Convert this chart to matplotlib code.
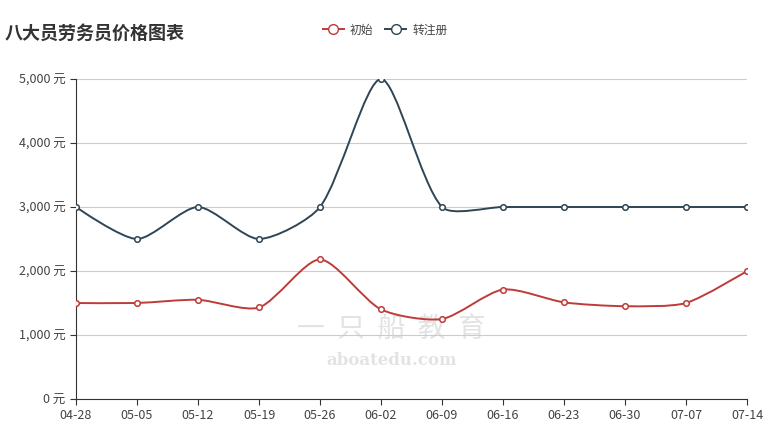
import math
import matplotlib.pyplot as plt
from matplotlib.path import Path
from matplotlib.patches import PathPatch
from matplotlib.lines import Line2D

plt.rcParams['font.family'] = ['Noto Sans CJK SC', 'DejaVu Sans']

dates = ['04-28', '05-05', '05-12', '05-19', '05-26', '06-02', '06-09',
         '06-16', '06-23', '06-30', '07-07', '07-14']
initial = [1500, 1500, 1550, 1430, 2180, 1400, 1250, 1710, 1510, 1450, 1500, 2000]
transfer = [3000, 2500, 3000, 2500, 3000, 5000, 3000, 3000, 3000, 3000, 3000, 3000]
yticks = [0, 1000, 2000, 3000, 4000, 5000]

red = '#bf3b37'
dark = '#2f4554'

# pixel scale of the axes, used so smoothing works like it does on screen
SX = 671 / 11
SY = 320 / 5000


def smooth_path(xs, ys, smooth=0.25):
    pts = [(a * SX, b * SY) for a, b in zip(xs, ys)]
    n = len(pts)
    cps = []
    for i in range(n):
        if i == 0 or i == n - 1:
            cps.append((pts[i], pts[i]))
            continue
        px, py = pts[i - 1]
        x, y = pts[i]
        nx, ny = pts[i + 1]
        vx, vy = (nx - px) * smooth, (ny - py) * smooth
        d0 = math.hypot(x - px, y - py)
        d1 = math.hypot(nx - x, ny - y)
        s = d0 + d1
        d0, d1 = d0 / s, d1 / s
        cps.append(((x - vx * d0, y - vy * d0), (x + vx * d1, y + vy * d1)))
    verts = [pts[0]]
    codes = [Path.MOVETO]
    for i in range(n - 1):
        verts += [cps[i][1], cps[i + 1][0], pts[i + 1]]
        codes += [Path.CURVE4] * 3
    verts = [(a / SX, b / SY) for a, b in verts]
    return Path(verts, codes)


fig = plt.figure(figsize=(7.78, 4.4), dpi=100)
ax = fig.add_axes([76 / 778, 41 / 440, 671 / 778, 320 / 440])

x = list(range(len(dates)))

# faint watermark text
ax.text(0.47, 0.22, '一  只  船  教  育', transform=ax.transAxes, fontsize=20,
        color='#e3e3e3', ha='center', va='center', zorder=0)
ax.text(0.47, 0.12, 'aboatedu.com', transform=ax.transAxes, fontsize=12,
        color='#e3e3e3', ha='center', va='center', family='DejaVu Serif',
        fontweight='bold', zorder=0)

for vals, col in [(transfer, dark), (initial, red)]:
    ax.add_patch(PathPatch(smooth_path(x, vals), fill=False, edgecolor=col,
                           lw=1.4, zorder=3))
    ax.plot(x, vals, 'o', ms=4, mfc='white', mec=col, mew=1.1, zorder=4)

ax.set_xlim(0, len(dates) - 1)
ax.set_ylim(0, 5000)
ax.set_xticks(x)
ax.set_xticklabels(dates)
ax.set_yticks(yticks)
ax.set_yticklabels(['{:,} 元'.format(v) for v in yticks])
ax.grid(axis='y', color='#cccccc', lw=0.8)
ax.set_axisbelow(True)
for s in ['top', 'right']:
    ax.spines[s].set_visible(False)
ax.spines['left'].set_color('#333333')
ax.spines['bottom'].set_color('#333333')
ax.tick_params(axis='both', colors='#333333', labelsize=9, length=4,
               labelcolor='#444444')

fig.text(5 / 778, 1 - 33 / 440, '八大员劳务员价格图表', fontsize=13,
         fontweight='bold', color='#333333', va='center')

handles = [Line2D([], [], color=red, lw=1.4, marker='o', ms=7, mfc='white', mec=red),
           Line2D([], [], color=dark, lw=1.4, marker='o', ms=7, mfc='white', mec=dark)]
fig.legend(handles, ['初始', '转注册'], loc='center', bbox_to_anchor=(385 / 778, 1 - 30 / 440),
           ncol=2, frameon=False, fontsize=8.5, handlelength=1.8, columnspacing=1.0,
           handletextpad=0.5, labelcolor='#444444')

fig.savefig('out.png', dpi=100)
